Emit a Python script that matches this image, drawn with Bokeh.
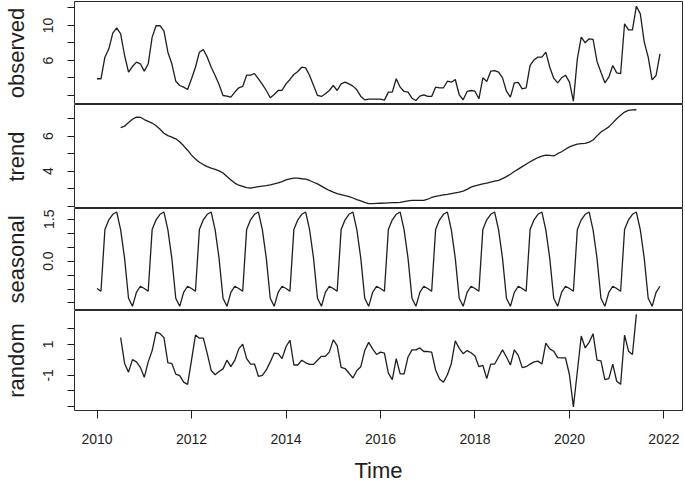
import numpy as np
from bokeh.plotting import figure
from bokeh.models import FixedTicker, Range1d
from bokeh.layouts import column
from bokeh.embed import file_html
from bokeh.resources import INLINE

# ---- data (monthly, Jan 2010 - Dec 2021) ----
start_year = 2010
observed = [
    3.91, 3.91, 6.38, 7.33, 9.12, 9.73, 9.05, 6.57, 4.66, 5.31, 5.81, 5.62,
    4.78, 5.62, 8.67, 9.97, 9.97, 9.35, 6.95, 5.62, 3.63, 3.14, 2.95, 2.69,
    3.91, 5.23, 6.95, 7.26, 6.38, 5.23, 4.29, 3.26, 2.00, 1.93, 1.81, 2.38,
    2.88, 3.03, 4.32, 4.32, 4.51, 3.91, 3.26, 2.57, 1.74, 2.11, 2.57, 2.60,
    3.33, 3.83, 4.40, 4.74, 5.23, 5.16, 4.29, 3.14, 2.00, 1.89, 2.19, 2.57,
    3.14, 2.57, 3.33, 3.52, 3.33, 3.07, 2.65, 1.89, 1.51, 1.58, 1.58, 1.58,
    1.58, 1.47, 2.38, 2.38, 3.91, 2.95, 2.46, 2.38, 1.69, 1.43, 1.93, 2.08,
    1.89, 1.89, 2.95, 2.88, 2.88, 3.63, 3.52, 3.83, 2.08, 1.51, 2.46, 2.57,
    2.49, 1.62, 4.02, 3.60, 4.78, 4.85, 4.66, 4.02, 2.49, 1.81, 3.45, 3.49,
    2.76, 2.88, 5.43, 6.08, 6.38, 6.38, 6.95, 5.23, 3.98, 3.45, 4.02, 4.32,
    3.52, 1.35, 6.19, 8.67, 8.02, 8.48, 8.40, 5.89, 4.66, 3.45, 4.09, 5.43,
    4.59, 4.51, 10.19, 9.50, 9.50, 12.20, 11.33, 8.10, 6.38, 3.79, 4.29, 6.76,
]

# trend: Jul 2010 - Jun 2021
trend_start = 6
trend = [
    6.49, 6.57, 6.78, 6.97, 7.09, 7.08,
    6.95, 6.85, 6.75, 6.60, 6.40, 6.17, 6.03, 5.95, 5.85, 5.68, 5.45, 5.20,
    4.92, 4.70, 4.51, 4.38, 4.26, 4.18, 4.11, 4.02, 3.90, 3.70, 3.50, 3.32,
    3.20, 3.13, 3.06, 3.04, 3.08, 3.12, 3.15, 3.18, 3.22, 3.27, 3.33, 3.41,
    3.50, 3.56, 3.60, 3.60, 3.57, 3.55, 3.47, 3.37, 3.28, 3.15, 3.02, 2.90,
    2.80, 2.72, 2.66, 2.60, 2.55, 2.47, 2.38, 2.30, 2.22, 2.15, 2.15, 2.16,
    2.17, 2.18, 2.19, 2.20, 2.21, 2.22, 2.26, 2.30, 2.33, 2.33, 2.33, 2.33,
    2.40, 2.50, 2.56, 2.60, 2.65, 2.68, 2.72, 2.76, 2.80, 2.86, 2.96, 3.09,
    3.16, 3.22, 3.27, 3.32, 3.38, 3.43, 3.48, 3.58, 3.69, 3.83, 3.98, 4.12,
    4.26, 4.40, 4.54, 4.66, 4.78, 4.86, 4.92, 4.90, 4.87, 5.00, 5.11, 5.25,
    5.39, 5.48, 5.55, 5.58, 5.59, 5.66, 5.78, 6.02, 6.24, 6.38, 6.53, 6.76,
    7.00, 7.20, 7.38, 7.47, 7.50, 7.51,
]

# seasonal figure, Jan..Dec
seasonal_figure = [-0.98, -1.08, 1.13, 1.48, 1.68, 1.76, 1.12, 0.10, -1.33, -1.62, -1.12, -0.90]

# random: Jul 2010 - Jun 2021
random_part = [
    1.44, -0.23, -0.79, 0.02, -0.13, -0.48,
    -1.13, -0.13, 0.60, 1.79, 1.69, 1.44, -0.19, -0.23, -0.92, -1.02, -1.44, -1.58,
    -0.02, 1.60, 1.40, 1.40, 0.40, -0.69, -0.96, -0.75, -0.58, -0.02, -0.44, -0.02,
    0.71, 1.02, 0.08, -0.27, -0.27, -1.06, -1.00, -0.65, -0.13, 0.44, 0.40, 0.08,
    0.85, 1.27, -0.33, -0.33, -0.02, -0.19, -0.29, -0.29, -0.02, 0.23, 0.23, 0.50,
    1.29, 0.92, -0.48, -0.56, -0.85, -1.17, -0.69, -0.44, 0.60, 1.13, 0.71, 0.35,
    0.50, 0.44, -0.85, -1.27, 0.08, -0.90, -0.90, 0.19, 0.65, 0.65, 0.77, 0.54,
    0.54, 0.50, -0.65, -1.23, -1.44, -0.96, -0.23, 1.23, 0.75, 0.40, 0.60, 0.46,
    0.25, -0.44, -0.35, -1.21, -0.27, -0.27, 0.19, 0.65, 0.19, -0.33, 0.65, 0.29,
    -0.50, -0.44, -0.27, -0.13, -0.08, -0.27, 1.08, 0.71, 0.56, 0.15, 0.13, 0.13,
    -0.96, -3.04, -0.75, 1.54, 0.77, 1.13, 1.69, -0.02, -0.06, -1.27, -1.21, -0.27,
    -1.38, -1.58, 1.60, 0.56, 0.35, 2.94,
]

x_ticks = [2010, 2012, 2014, 2016, 2018, 2020, 2022]

# ---- layout ----
FONT = "Liberation Sans"
INK = "#1e1e1e"
W = 684
LEFT = 74

n = len(observed)
t_all = start_year + np.arange(n) / 12.0
t_trend = t_all[trend_start:trend_start + len(trend)]
t_rand = t_all[trend_start:trend_start + len(random_part)]
seasonal = np.tile(seasonal_figure, n // 12)

x_lo, x_hi = 2009.523, 2022.393


def panel(label, x, y, yr, ticks, labelled, height, top=0, bottom_axis=False):
    p = figure(width=W, height=height, output_backend="svg", toolbar_location=None,
               x_range=Range1d(x_lo, x_hi), y_range=Range1d(*yr),
               min_border_left=LEFT, min_border_right=2,
               min_border_top=top, min_border_bottom=(74 if bottom_axis else 0))
    p.line(x, y, line_color=INK, line_width=1.3)
    p.grid.visible = False
    p.outline_line_color = "#2a2a2a"
    p.outline_line_width = 1.0
    p.background_fill_color = "white"
    p.border_fill_color = "white"

    ya = p.yaxis[0]
    ya.ticker = FixedTicker(ticks=ticks)
    ya.major_label_overrides = {t: (lab if lab is not None else "") for t, lab in zip(ticks, labelled)}
    ya.major_label_orientation = "vertical"
    ya.major_label_text_font = FONT
    ya.major_label_text_font_size = "14px"
    ya.major_label_text_color = INK
    ya.major_label_standoff = 14
    ya.major_tick_out = 7
    ya.major_tick_in = 0
    ya.major_tick_line_color = INK
    ya.minor_tick_line_color = None
    ya.axis_line_color = None
    ya.axis_label = label
    ya.axis_label_text_font = FONT
    ya.axis_label_text_font_size = "22px"
    ya.axis_label_text_font_style = "normal"
    ya.axis_label_text_color = INK
    ya.axis_label_standoff = 12

    xa = p.xaxis[0]
    if bottom_axis:
        xa.ticker = FixedTicker(ticks=x_ticks)
        xa.major_label_text_font = FONT
        xa.major_label_text_font_size = "14px"
        xa.major_label_text_color = INK
        xa.major_label_standoff = 15
        xa.major_tick_out = 8
        xa.major_tick_in = 0
        xa.major_tick_line_color = INK
        xa.minor_tick_line_color = None
        xa.axis_line_color = None
        xa.axis_label = "Time"
        xa.axis_label_text_font = FONT
        xa.axis_label_text_font_size = "22px"
        xa.axis_label_text_font_style = "normal"
        xa.axis_label_text_color = INK
        xa.axis_label_standoff = 11
    else:
        xa.visible = False
    return p


p1 = panel("observed", t_all, observed, (0.97, 12.74),
           [2, 4, 6, 8, 10, 12], [None, None, "6", None, "10", None], 104, top=1)
p2 = panel("trend", t_trend, trend, (1.87, 7.81),
           [2, 3, 4, 5, 6, 7], [None, None, "4", None, "6", None], 104)
p3 = panel("seasonal", t_all, seasonal, (-1.77, 1.887),
           [-1.5, -1.0, -0.5, 0.0, 0.5, 1.0, 1.5], [None, None, None, "0.0", None, None, "1.5"], 102)
p4 = panel("random", t_rand, random_part, (-3.27, 3.19),
           [-3, -2, -1, 0, 1, 2], [None, None, "-1", None, "1", None], 175, bottom_axis=True)

layout = column(p1, p2, p3, p4, spacing=0)
open("out.html", "w").write(file_html(layout, INLINE))
